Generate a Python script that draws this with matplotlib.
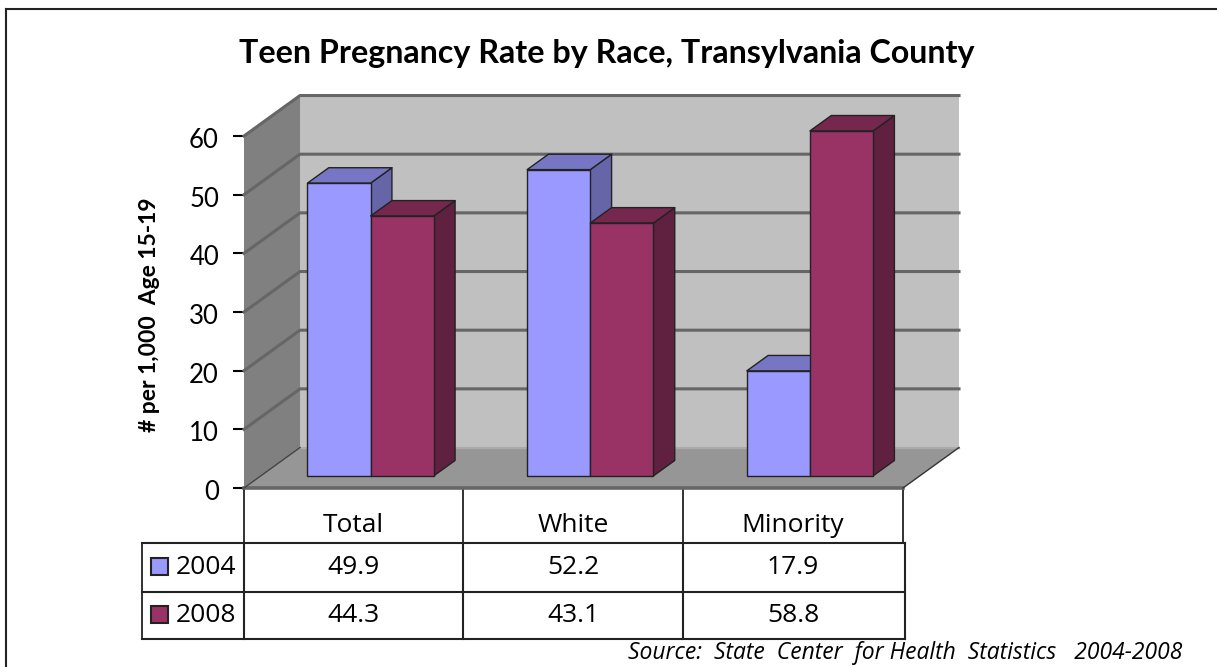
import matplotlib
matplotlib.use('Agg')
import matplotlib.pyplot as plt
from matplotlib.patches import Polygon, Rectangle
from matplotlib.transforms import ScaledTranslation

categories = ['Total', 'White', 'Minority']
series_names = ['2004', '2008']
values_2004 = [49.9, 52.2, 17.9]
values_2008 = [44.3, 43.1, 58.8]
y_ticks = [0, 10, 20, 30, 40, 50, 60]

title = 'Teen Pregnancy Rate by Race, Transylvania County'
y_label = '# per 1,000  Age 15-19'
source = 'Source:  State  Center  for Health  Statistics   2004-2008'

W, H = 1217, 667
BLUE = ['#9999ff', '#7676c4', '#6565a8']
MAROON = ['#993366', '#75274e', '#602040']

plt.rcParams['font.family'] = ['Lato', 'DejaVu Sans']

fig = plt.figure(figsize=(W / 100, H / 100), dpi=100)

# overlay in pixels, for the frame and the table lines
px = fig.add_axes([0, 0, 1, 1])
px.set_xlim(0, W)
px.set_ylim(H, 0)
px.axis('off')

# front plane of the 3d box
ax = fig.add_axes([244 / W, 1 - 488 / H, 659 / W, 352 / H])
ax.set_xlim(0, 3)
ax.set_ylim(0, 60)
ax.patch.set_alpha(0)
for s in ax.spines.values():
    s.set_visible(False)
ax.set_xticks([])
ax.set_yticks(y_ticks)
ax.tick_params(axis='y', length=8, width=1.5, pad=10, labelsize=18.5)
nudge = ScaledTranslation(0, -2 / 100, fig.dpi_scale_trans)
for lab in ax.get_yticklabels():
    lab.set_transform(lab.get_transform() + nudge)

DX = 0.255   # depth of the box in category units
DY = 6.9     # depth of the box in value units


def proj(x, y, d):
    return (x + d * DX, y + d * DY)


def poly(points, color, edge='none', lw=0, z=1):
    ax.add_patch(Polygon(points, closed=True, facecolor=color, edgecolor=edge,
                         linewidth=lw, clip_on=False, zorder=z, joinstyle='round'))


# walls
poly([proj(0, 0, 1), proj(3, 0, 1), proj(3, 60, 1), proj(0, 60, 1)], '#c0c0c0')
poly([proj(0, 0, 0), proj(0, 60, 0), proj(0, 60, 1), proj(0, 0, 1)], '#808080')
poly([proj(0, 0, 0), proj(3, 0, 0), proj(3, 0, 1), proj(0, 0, 1)], '#969696')

for t in y_ticks[1:]:
    x0, y0 = proj(0, t, 0)
    x1, y1 = proj(0, t, 1)
    x2, y2 = proj(3, t, 1)
    ax.plot([x0, x1, x2], [y0, y1, y2], color='#666666', lw=2.2, clip_on=False, zorder=2)
ax.plot(*zip(proj(0, 0, 0), proj(3, 0, 0)), color='#666666', lw=2.6, clip_on=False, zorder=2)
ax.plot(*zip(proj(0, 0, 1), proj(3, 0, 1)), color='#aaaaaa', lw=1, clip_on=False, zorder=2)
ax.plot(*zip(proj(3, 0, 0), proj(3, 0, 1)), color='#333333', lw=1, clip_on=False, zorder=2)
ax.plot(*zip(proj(0, 0, 0), proj(0, 0, 1)), color='#444444', lw=1, clip_on=False, zorder=2)

# bars
bar_w = 0.2875
margin = 0.2125
d0, d1 = 0.30, 0.68


def bar3d(x, v, colors, z):
    a, b = x, x + bar_w
    e = '#222222'
    poly([proj(b, 0, d0), proj(b, 0, d1), proj(b, v, d1), proj(b, v, d0)], colors[2], e, 1, z)
    poly([proj(a, v, d0), proj(b, v, d0), proj(b, v, d1), proj(a, v, d1)], colors[1], e, 1, z)
    poly([proj(a, 0, d0), proj(b, 0, d0), proj(b, v, d0), proj(a, v, d0)], colors[0], e, 1, z)


for i in range(len(categories)):
    bar3d(i + margin, values_2004[i], BLUE, 3 + i * 2)
    bar3d(i + margin + bar_w, values_2008[i], MAROON, 4 + i * 2)

# outer frame, right and bottom fall off the picture
px.plot([6, 6], [H, 9], color='#222222', lw=1.5)
px.plot([6, W], [9, 9], color='#222222', lw=1.5)

px.text(607, 53, title, ha='center', va='center', fontsize=23.2, fontweight='bold', color='black')
px.text(150, 315, y_label, ha='center', va='center', rotation=90, fontsize=16.5, fontweight='bold')
px.text(1182, 653, source, ha='right', va='center', fontsize=16.5, style='italic', family='Open Sans')

# data table
col_x = [244, 463, 683, 903]
rows_y = [543, 592, 639]
for x in col_x:
    px.plot([x, x], [488, 543], color='#222222', lw=1.3)
for x in col_x[:3]:
    px.plot([x, x], [543, 639], color='#222222', lw=1.5)
px.plot([905, 905], [543, 639], color='#222222', lw=1.5)
px.plot([142, 142], [543, 639], color='#222222', lw=1.3)
for y in rows_y:
    px.plot([142, 905], [y, y], color='#222222', lw=1.5)

for i, name in enumerate(categories):
    cx = (col_x[i] + col_x[i + 1]) / 2
    px.text(cx, 526, name, ha='center', va='center', fontsize=19, family='Open Sans')
    px.text(cx, 567, str(values_2004[i]), ha='center', va='center', fontsize=19, family='Open Sans')
    px.text(cx, 615, str(values_2008[i]), ha='center', va='center', fontsize=19, family='Open Sans')

for name, c, yc in zip(series_names, [BLUE[0], MAROON[0]], [566, 614]):
    px.add_patch(Rectangle((151, yc - 8.5), 17, 17, facecolor=c, edgecolor='#222222', lw=1.5))
    px.text(176, yc + 1, name, ha='left', va='center', fontsize=19, family='Open Sans')

fig.savefig('out.png', dpi=100)
